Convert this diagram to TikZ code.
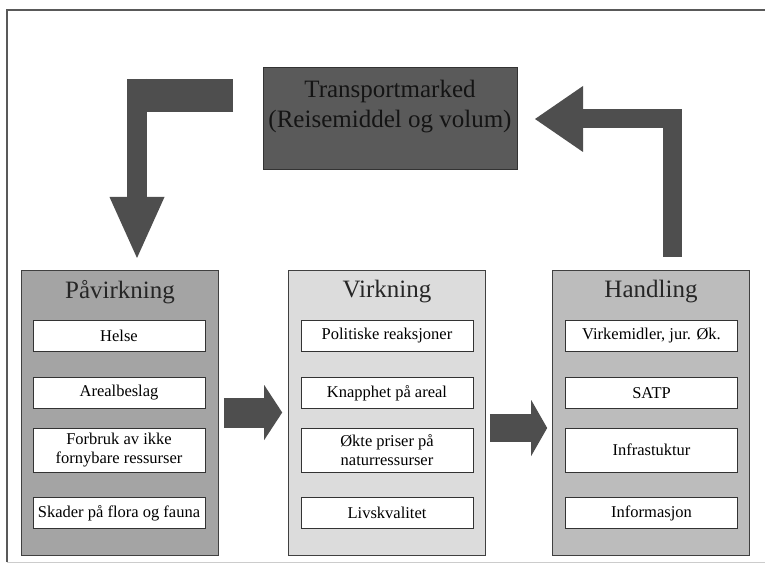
\documentclass[tikz,border=0pt]{standalone}
\usepackage{fontspec}
\setmainfont{Liberation Serif}
\usepackage{xcolor}
\usepackage{tikz}
\usetikzlibrary{arrows.meta}
\usetikzlibrary{positioning}
\definecolor{pavgray}{HTML}{A4A4A4}
\definecolor{virkgray}{HTML}{DCDCDC}
\definecolor{handgray}{HTML}{BCBCBC}
\definecolor{tmgray}{HTML}{5A5A5A}
\definecolor{arrowgray}{HTML}{4E4E4E}
\tikzset{>=latex}
\tikzstyle{colbox} = [rectangle, draw=black!75, semithick, minimum width=197pt, minimum height=285pt, inner sep=0pt]
\tikzstyle{itembox} = [rectangle, draw=black!80, fill=white, minimum width=172pt, inner sep=0pt, align=center, font=\fontsize{16.5}{19}\selectfont]
\tikzstyle{boxhead} = [text=black!85, font=\fontsize{25}{30}\selectfont]
\tikzstyle{blockline} = [draw=arrowgray]

\begin{document}
\begin{tikzpicture}[x=1pt, y=-1pt]
\useasboundingbox (0,0) rectangle (765,577);
\draw [black!65, line width=1.2pt] (7,562) -- (7,10) -- (765,10);
\draw [black!20] (7,562) -- (765,562);

\node [rectangle, draw=black!80, fill=tmgray, minimum width=254pt, minimum height=102pt] (tm) at (390,118) {};
\node [boxhead, text=black!92, align=center] (tmtext) at (390,107) {Transportmarked\\(Reisemiddel og volum)};

\node [colbox, fill=pavgray] (pav) at (120,412.5) {};
\node [colbox, fill=virkgray] (virk) at (387,412.5) {};
\node [colbox, fill=handgray] (hand) at (651,412.5) {};

\node [boxhead] (pavh) at (120,292) {Påvirkning};
\node [boxhead] (virkh) at (387,292) {Virkning};
\node [boxhead] (handh) at (651,292) {Handling};

\node [itembox, minimum height=31pt] (pav1) at (119,336) {Helse};
\node [itembox, minimum height=31pt] (pav2) at (119,393) {Arealbeslag};
\node [itembox, minimum height=44pt] (pav3) at (119,450) {Forbruk av ikke\\fornybare ressurser};
\node [itembox, minimum height=31pt] (pav4) at (119,513) {Skader på flora og fauna};

\node [itembox, minimum height=31pt] (virk1) at (387,336) {Politiske reaksjoner};
\node [itembox, minimum height=31pt] (virk2) at (387,393) {Knapphet på areal};
\node [itembox, minimum height=44pt] (virk3) at (387,450) {Økte priser på\\naturressurser};
\node [itembox, minimum height=31pt] (virk4) at (387,513) {Livskvalitet};

\node [itembox, minimum height=31pt] (hand1) at (651.5,336) {Virkemidler, jur. Øk.};
\node [itembox, minimum height=31pt] (hand2) at (651.5,393) {SATP};
\node [itembox, minimum height=44pt] (hand3) at (651.5,450) {Infrastuktur};
\node [itembox, minimum height=31pt] (hand4) at (651.5,513) {Informasjon};

% ends of the two bent arrows
\coordinate (tmout) at (233,95.5);
\coordinate (lcorner) at (127,95.5);
\coordinate (ltop) at (137,79);
\coordinate (pavin) at (137,258);
\coordinate (handout) at (672.5,257);
\coordinate (tmin) at (535,119);

\draw [blockline, line width=33pt] (tmout) -- (lcorner);
\draw [blockline, line width=20pt, -{Triangle[length=61pt, width=55pt, line width=0pt]}] (ltop) -- (pavin);
\draw [blockline, line width=19pt, -{Triangle[length=48pt, width=66pt, line width=0pt]}] (handout) |- (tmin);

\draw [blockline, line width=30pt, -{Triangle[length=18pt, width=55pt, line width=0pt]}] ([xshift=5pt]pav.east) -- ([xshift=-6pt]virk.west);
\draw [blockline, line width=28pt, -{Triangle[length=16pt, width=56pt, line width=0pt]}] ([shift={(4pt,-15.5pt)}]virk.east) -- ([shift={(-5pt,-15.5pt)}]hand.west);
\end{tikzpicture}
\end{document}
